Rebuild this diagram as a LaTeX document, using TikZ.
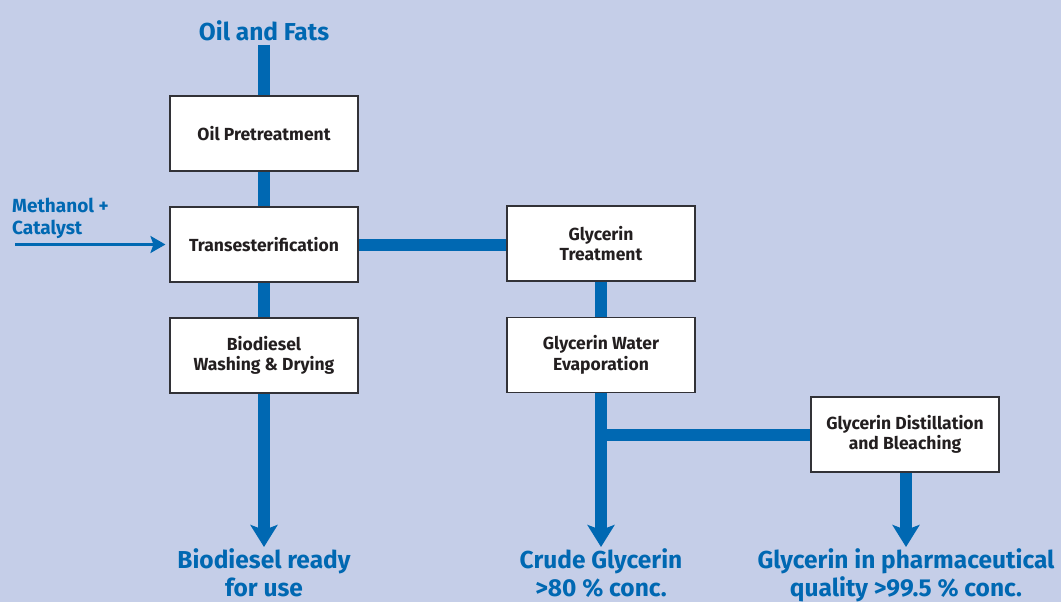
\documentclass[tikz,border=0pt]{standalone}
\usepackage{fontspec}
\setmainfont{Fira Sans}
\usetikzlibrary{arrows.meta}
\definecolor{bg}{RGB}{197,206,232}
\definecolor{flow}{RGB}{0,104,178}
\definecolor{boxtext}{RGB}{35,31,32}
\definecolor{boxline}{RGB}{50,50,55}
\tikzset{
  procbox/.style={draw=boxline, line width=1.1pt, fill=white, minimum width=188pt, minimum height=75pt,
    align=center, text=boxtext, font=\fontsize{17.5}{20.5}\selectfont\bfseries, inner sep=2pt},
  pipe/.style={draw=flow, line width=12pt},
  pipearrow/.style={pipe, -{Stealth[length=22pt, width=27pt, inset=5pt]}},
  flowlabel/.style={text=flow, font=\fontsize{24.5}{28}\selectfont\bfseries, align=center, inner sep=1pt},
  sidelabel/.style={text=flow, font=\fontsize{19}{22}\selectfont\bfseries, align=left, inner sep=0pt},
  thinarrow/.style={draw=flow, line width=2.5pt, -{Stealth[length=15pt, width=17pt, inset=3pt]}}
}
\begin{document}
\begin{tikzpicture}[x=1pt, y=-1pt]
\useasboundingbox[fill=bg] (0,0) rectangle (1061,602);

% titles
\node[flowlabel, anchor=south] (oil) at (264,42) {Oil and Fats};
\coordinate (top) at (264,45);

% boxes
\node[procbox] (b1) at (264,133.5) {Oil Pretreatment};
\node[procbox] (b2) at (264,244.5) {Transesterification};
\node[procbox] (b3) at (264,355.5) {Biodiesel\\Washing \& Drying};
\node[procbox] (b4) at (601,243.5) {Glycerin\\Treatment};
\node[procbox] (b5) at (601,355) {Glycerin Water\\Evaporation};
\node[procbox] (b6) at (905,434.5) {Glycerin Distillation\\and Bleaching};

% outputs
\node[flowlabel, anchor=north] (out1) at (264,547) {Biodiesel ready\\for use};
\node[flowlabel, anchor=north] (out2) at (601,547) {Crude Glycerin\\>80 \% conc.};
\node[flowlabel, anchor=north] (out3) at (906,547) {Glycerin in pharmaceutical\\quality >99.5 \% conc.};

% side input
\node[sidelabel, anchor=north west] (meth) at (12,198) {Methanol +\\Catalyst};
\coordinate (methstart) at (15,244.5);

% pipes
\draw[pipe] (top) -- (b1.north);
\draw[pipe] (b1) -- (b2);
\draw[pipe] (b2) -- (b3);
\draw[pipearrow] (b3.south) -- (out1.north);
\draw[pipe] (b2.east) -- (b2.east -| b4.west);
\draw[pipe] (b4) -- (b5);
\draw[pipearrow] (b5.south) -- (out2.north);
\draw[pipe] (b5.south |- b6.west) -- (b6.west);
\draw[pipearrow] (b6.south -| out3.north) -- (out3.north);
\draw[thinarrow, shorten >=4pt] (methstart) -- (b2.west);

% redraw boxes on top
\node[procbox] at (b1) {Oil Pretreatment};
\node[procbox] at (b2) {Transesterification};
\node[procbox] at (b3) {Biodiesel\\Washing \& Drying};
\node[procbox] at (b4) {Glycerin\\Treatment};
\node[procbox] at (b5) {Glycerin Water\\Evaporation};
\node[procbox] at (b6) {Glycerin Distillation\\and Bleaching};
\end{tikzpicture}
\end{document}
